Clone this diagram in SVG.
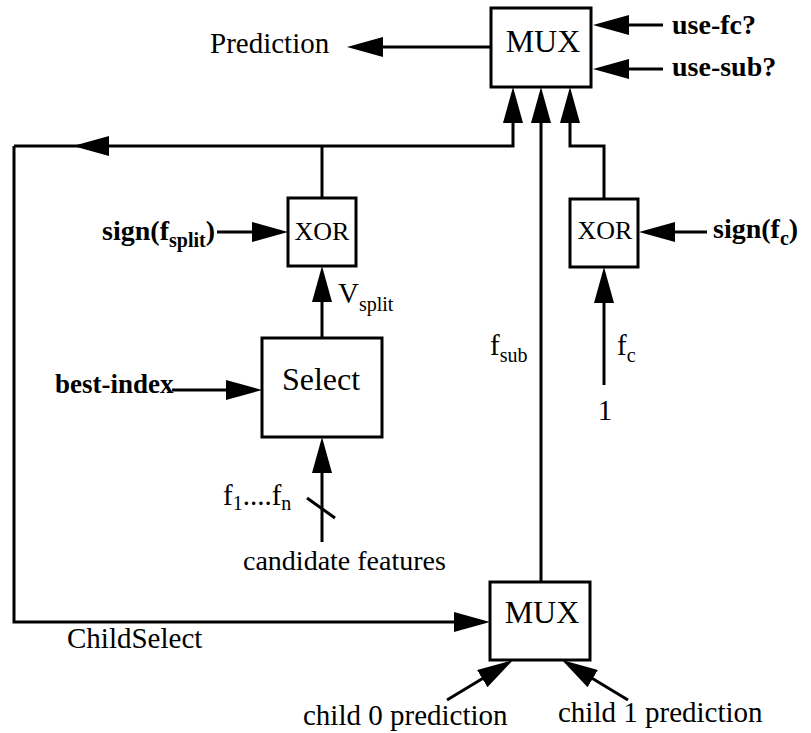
<svg xmlns="http://www.w3.org/2000/svg" width="811" height="733" viewBox="0 0 811 733">
<style>
.box{fill:#fff;stroke:#000;stroke-width:3}
.ln{fill:none;stroke:#000;stroke-width:3;marker-end:url(#ah)}
.pl{fill:none;stroke:#000;stroke-width:3}
text{font-family:"Liberation Serif","Times New Roman",serif;fill:#000}
.t{font-size:29px}
.b{font-size:28px;font-weight:bold}
.big{font-size:32px;text-anchor:middle}
.xor{font-size:26px;text-anchor:middle}
.s{font-size:20px}
</style>
<defs>
<marker id="ah" markerUnits="userSpaceOnUse" markerWidth="36" markerHeight="20" refX="26" refY="10" orient="auto">
<path d="M0,0 L36,10 L0,20 Z" fill="#000"/>
</marker>
</defs>
<rect width="811" height="733" fill="#fff"/>
<g id="connectors">
<path class="ln" d="M491,47 H357"/>
<path class="ln" d="M663,25 H603"/>
<path class="ln" d="M663,69 H603"/>
<path class="ln" d="M14,146 H513 V97"/>
<path class="pl" d="M322,198 V146"/>
<polygon points="73,146 109,136 109,156" fill="#000"/>
<path class="ln" d="M14,146 V622 H480"/>
<path class="ln" d="M541,582 V97"/>
<path class="ln" d="M604,199 V146 H570 V97"/>
<path class="ln" d="M217,232 H278"/>
<path class="ln" d="M322,338 V276"/>
<path class="ln" d="M707,232 H649"/>
<path class="ln" d="M604,385 V277"/>
<path class="ln" d="M172,390 H252"/>
<path class="ln" d="M322,542 V447"/>
<path class="pl" d="M307,498 L335,518"/>
<path class="ln" d="M447,700 L504.5,665.2"/>
<path class="ln" d="M628,700 L570.5,665.2"/>
</g>
<g id="mux-top">
<rect class="box" x="491" y="8" width="100" height="79"/>
<text class="big" x="543" y="52">MUX</text>
</g>
<g id="mux-bottom">
<rect class="box" x="490" y="582" width="100" height="78"/>
<text class="big" x="542" y="623">MUX</text>
</g>
<g id="xor-left">
<rect class="box" x="288" y="198" width="68" height="68"/>
<text class="xor" x="322" y="240">XOR</text>
</g>
<g id="xor-right">
<rect class="box" x="570" y="199" width="68" height="68"/>
<text class="xor" x="605" y="239">XOR</text>
</g>
<g id="select">
<rect class="box" x="262" y="338" width="120" height="99"/>
<text class="big" x="321" y="390">Select</text>
</g>
<g id="labels">
<text class="t" x="210" y="53">Prediction</text>
<text class="b" x="672" y="34">use-fc?</text>
<text class="b" x="672" y="76">use-sub?</text>
<text class="b" x="215" y="240" text-anchor="end">sign(f<tspan class="s" dy="7">split</tspan><tspan dy="-7">)</tspan></text>
<text class="b" x="713" y="238">sign(f<tspan class="s" dy="7">c</tspan><tspan dy="-7">)</tspan></text>
<text class="t" x="338" y="303">V<tspan class="s" dy="8">split</tspan></text>
<text class="t" x="490" y="355">f<tspan class="s" dy="7">sub</tspan></text>
<text class="t" x="617" y="355">f<tspan class="s" dy="7">c</tspan></text>
<text class="t" x="605" y="420" text-anchor="middle">1</text>
<text class="b" x="55" y="393" style="font-size:27px">best-index</text>
<text class="t" x="223" y="505">f<tspan class="s" dy="5">1</tspan><tspan dy="-5">....f</tspan><tspan class="s" dy="5">n</tspan></text>
<text class="t" x="243" y="570" style="font-size:28px">candidate features</text>
<text class="t" x="67" y="648">ChildSelect</text>
<text class="t" x="303" y="725">child 0 prediction</text>
<text class="t" x="558" y="722">child 1 prediction</text>
</g>
</svg>
